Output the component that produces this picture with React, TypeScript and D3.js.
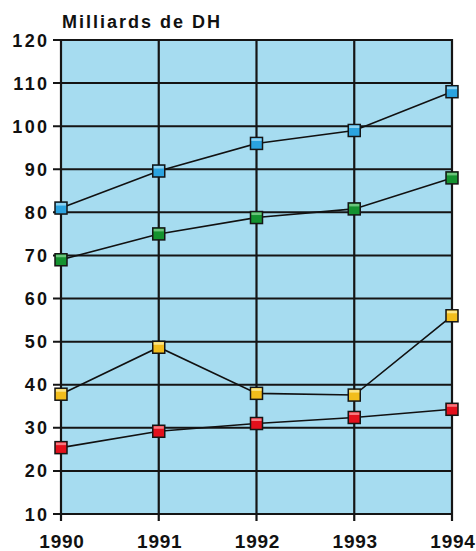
import React from "react";
import * as d3 from "d3";

const years = [1990, 1991, 1992, 1993, 1994];
const blueValues = [81, 89.6, 96, 99, 108];
const greenValues = [69, 75, 78.8, 80.8, 88];
const yellowValues = [37.8, 48.7, 38, 37.6, 56];
const redValues = [25.4, 29.2, 31, 32.4, 34.3];
const yTicks = [10, 20, 30, 40, 50, 60, 70, 80, 90, 100, 110, 120];
const title = "Milliards de DH";

const seriesList = [
  { name: "blue", values: blueValues, fill: "#2ba3df", light: "#8fd4f3" },
  { name: "green", values: greenValues, fill: "#14922f", light: "#6cc47c" },
  { name: "yellow", values: yellowValues, fill: "#f2bd1c", light: "#fbe58a" },
  { name: "red", values: redValues, fill: "#e3101c", light: "#f77a80" },
];

export default function App() {
  const W = 476, H = 551;
  const x = d3.scaleLinear().domain([1990, 1994]).range([61, 452]);
  const y = d3.scaleLinear().domain([10, 120]).range([514, 40]);
  const line = d3.line<number>().x((_, i) => x(years[i])).y((v) => y(v));
  const font = "'Liberation Sans', Arial, Helvetica, sans-serif";
  const ms = 12;
  return (
    <svg width={W} height={H} style={{ position: "absolute", left: 0, top: 0 }}>
      <rect x={0} y={0} width={W} height={H} fill="#ffffff" />
      <rect x={x(1990)} y={y(120)} width={x(1994) - x(1990)} height={y(10) - y(120)} fill="#a6dcf0" />
      {yTicks.map((t) => (
        <line key={"h" + t} x1={53} x2={x(1994)} y1={y(t)} y2={y(t)} stroke="#151515" strokeWidth={2} />
      ))}
      {years.map((yr) => (
        <line key={"v" + yr} x1={x(yr)} x2={x(yr)} y1={y(120) - 1} y2={521} stroke="#151515" strokeWidth={2.2} />
      ))}
      {yTicks.map((t) => (
        <text key={"yl" + t} x={49.5} y={y(t) + 6.5} textAnchor="end" fontFamily={font} fontWeight="bold" fontSize={18} letterSpacing={2.4} fill="#111">
          {t}
        </text>
      ))}
      {years.map((yr) => (
        <text key={"xl" + yr} x={x(yr) + 1} y={548} textAnchor="middle" fontFamily={font} fontWeight="bold" fontSize={19} letterSpacing={0.8} fill="#111">
          {yr}
        </text>
      ))}
      <text x={62} y={28} fontFamily={font} fontWeight="bold" fontSize={18} letterSpacing={2} fill="#111">
        {title}
      </text>
      {seriesList.map((s) => (
        <path key={"l" + s.name} d={line(s.values) || ""} fill="none" stroke="#111" strokeWidth={1.6} />
      ))}
      {seriesList.map((s) => (
        <g key={"m" + s.name}>
          {s.values.map((v, i) => (
            <g key={i}>
              <rect x={x(years[i]) - ms / 2} y={y(v) - ms / 2} width={ms} height={ms} fill={s.fill} stroke="#151515" strokeWidth={1.5} />
              <rect x={x(years[i]) - ms / 2 + 1} y={y(v) - ms / 2 + 1} width={ms - 2} height={2.5} fill={s.light} />
            </g>
          ))}
        </g>
      ))}
    </svg>
  );
}
